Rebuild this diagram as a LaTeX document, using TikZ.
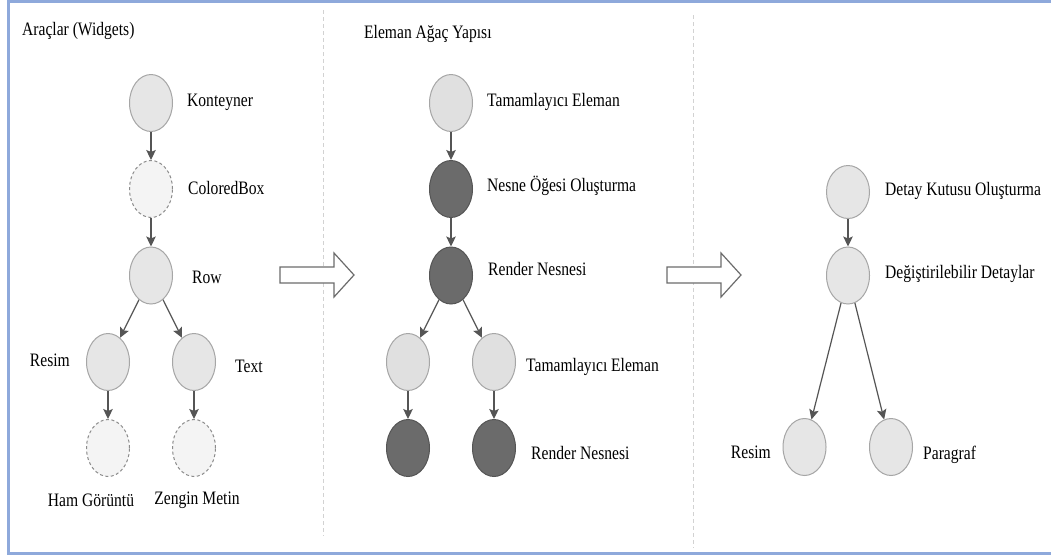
\documentclass[tikz,border=0pt]{standalone}
\usepackage{fontspec}
\usepackage{graphicx}
\setmainfont{Liberation Serif}
\usetikzlibrary{shapes.geometric,arrows.meta}
\definecolor{frameblue}{HTML}{8EA9DB}
\definecolor{lightfill}{HTML}{E6E6E6}
\definecolor{lightfillb}{HTML}{E0E0E0}
\definecolor{ghostfill}{HTML}{F4F4F4}
\definecolor{darkfill}{HTML}{6B6B6B}
\definecolor{edgegray}{HTML}{555555}
\newcommand{\nrw}[1]{\scalebox{0.82}[1]{#1}}
\tikzset{
  base/.style={ellipse, minimum width=43pt, minimum height=57pt, inner sep=0pt},
  lnode/.style={base, draw=gray!70, line width=1pt, fill=lightfill},
  lnodeb/.style={base, draw=gray!70, line width=1pt, fill=lightfillb},
  gnode/.style={base, draw=gray!90, dashed, dash pattern=on 3pt off 2.5pt, line width=1pt, fill=ghostfill},
  dnode/.style={base, draw=edgegray, line width=1pt, fill=darkfill},
  lbl/.style={anchor=west, inner sep=0pt, font=\rmfamily\fontsize{19}{22}\selectfont, text=black},
  lblc/.style={anchor=center, inner sep=0pt, font=\rmfamily\fontsize{19}{22}\selectfont, text=black},
  conn/.style={draw=edgegray, line width=1.2pt, -{Stealth[length=10pt,width=9.5pt,inset=2pt]}},
  sep/.style={draw=gray!35, line width=0.8pt, dash pattern=on 4pt off 3pt},
  bigarrow/.style={draw=gray!85!black, line width=1.2pt, fill=white, line join=miter}
}
\begin{document}
\begin{tikzpicture}[x=1pt,y=-1pt]
\useasboundingbox (0,0) rectangle (1051,558);
\fill[white] (0,0) rectangle (1051,558);
% frame
\draw[frameblue, line width=3pt] (1051,1.5) -- (8.5,1.5) -- (8.5,553) -- (1051,553);
% separators
\draw[sep] (323,10) -- (323,536);
\draw[sep] (693,15) -- (693,548);
% titles
\node[lbl] (t1) at (22,31) {\nrw{Araçlar (Widgets)}};
\node[lbl] (t2) at (364,34) {\nrw{Eleman Ağaç Yapısı}};
% panel 1
\node[lnode] (kon) at (151,103) {};
\node[gnode] (cbox) at (151,189) {};
\node[lnode] (row) at (151,275.5) {};
\node[lnode] (res1) at (108,362) {};
\node[lnode] (txt) at (194,362) {};
\node[gnode] (ham) at (108,448) {};
\node[gnode] (zen) at (194,448) {};
\node[lbl] (lkon) at (187,102) {\nrw{Konteyner}};
\node[lbl] (lcb) at (188,188) {\nrw{ColoredBox}};
\node[lbl] (lrow) at (192,277) {\nrw{Row}};
\node[lbl, anchor=east] (lres1) at (70,360) {\nrw{Resim}};
\node[lbl] (ltxt) at (235,366) {\nrw{Text}};
\node[lblc] (lham) at (91,500) {\nrw{Ham Görüntü}};
\node[lblc] (lzen) at (197,500) {\nrw{Zengin Metin}};
\draw[conn] (kon) -- (cbox);
\draw[conn] (cbox) -- (row);
\draw[conn] (row) -- (res1);
\draw[conn] (row) -- (txt);
\draw[conn] (res1) -- (ham);
\draw[conn] (txt) -- (zen);
% big arrows
\draw[bigarrow] (280,267) -- (334,267) -- (334,253) -- (354,275) -- (334,297) -- (334,283) -- (280,283) -- cycle;
\draw[bigarrow] (667,267) -- (721,267) -- (721,253) -- (741,275) -- (721,297) -- (721,283) -- (667,283) -- cycle;
% panel 2
\node[lnodeb] (tam) at (451,103) {};
\node[dnode] (nes) at (451,189) {};
\node[dnode] (ren) at (451,275.5) {};
\node[lnodeb] (tl) at (408,362) {};
\node[lnodeb] (tr) at (494,362) {};
\node[dnode] (rl) at (408,448) {};
\node[dnode] (rr) at (494,448) {};
\node[lbl] (ltam) at (487,102) {\nrw{Tamamlayıcı Eleman}};
\node[lbl] (lnes) at (487,186) {\nrw{Nesne Öğesi Oluşturma}};
\node[lbl] (lren) at (488,269) {\nrw{Render Nesnesi}};
\node[lbl] (ltr) at (526,367) {\nrw{Tamamlayıcı Eleman}};
\node[lbl] (lrr) at (531,453) {\nrw{Render Nesnesi}};
\draw[conn] (tam) -- (nes);
\draw[conn] (nes) -- (ren);
\draw[conn] (ren) -- (tl);
\draw[conn] (ren) -- (tr);
\draw[conn] (tl) -- (rl);
\draw[conn] (tr) -- (rr);
% panel 3
\node[lnode, minimum height=53pt] (det) at (848,192) {};
\node[lnode] (deg) at (848,275.5) {};
\node[lnode] (res3) at (804.5,447) {};
\node[lnode] (par) at (891,447) {};
\node[lbl] (ldet) at (885,191) {\nrw{Detay Kutusu Oluşturma}};
\node[lbl] (ldeg) at (885,274) {\nrw{Değiştirilebilir Detaylar}};
\node[lbl, anchor=east] (lres3) at (771,452) {\nrw{Resim}};
\node[lbl] (lpar) at (923,455) {\nrw{Paragraf}};
\draw[conn] (det) -- (deg);
\draw[conn] (deg) -- (res3);
\draw[conn] (deg) -- (par);
\end{tikzpicture}
\end{document}
